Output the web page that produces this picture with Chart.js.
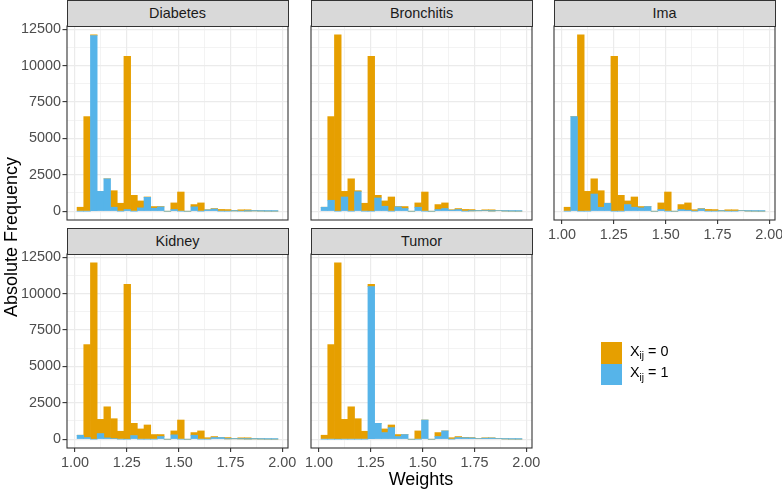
<!DOCTYPE html>
<html><head><meta charset="utf-8">
<script src="https://cdn.jsdelivr.net/npm/chart.js@4.4.0/dist/chart.umd.min.js"></script>
<style>
html,body{margin:0;padding:0;width:782px;height:490px;overflow:hidden;background:#fff;font-family:"Liberation Sans",Arial,Helvetica,sans-serif;}
canvas{position:absolute;left:0;top:0;}
.strip{position:absolute;box-sizing:border-box;background:#D9D9D9;border:1px solid #333333;color:#1A1A1A;font-size:14.4px;display:flex;align-items:center;justify-content:center;}
.ttl{position:absolute;color:#000;font-size:18px;line-height:18px;white-space:nowrap;text-align:center;}
.key{position:absolute;width:21px;height:21.5px;}
.lt{position:absolute;font-size:14.4px;line-height:14.4px;color:#000;white-space:nowrap;}
.lt sub{font-size:10px;vertical-align:baseline;position:relative;top:3.5px;}
</style>
</head><body>
<script>
// ---- data ----
const weightBins = [1.0261, 1.0584, 1.0907, 1.1230, 1.1553, 1.1876, 1.2199, 1.2522, 1.2845, 1.3168,
                    1.3491, 1.3814, 1.4137, 1.4460, 1.4783, 1.5106, 1.5429, 1.5752, 1.6075, 1.6398,
                    1.6721, 1.7044, 1.7367, 1.7690, 1.8013, 1.8336, 1.8659, 1.8982, 1.9305, 1.9628];
const xTickValues = [1.00, 1.125, 1.25, 1.375, 1.50, 1.625, 1.75, 1.875, 2.00];
const yTickValues = [0, 1250, 2500, 3750, 5000, 6250, 7500, 8750, 10000, 11250, 12500];
const facetNames = ["Diabetes", "Bronchitis", "Ima", "Kidney", "Tumor"];
const seriesLabels = ["X_ij = 0", "X_ij = 1"];

const diabetesX0   = [272, 6500, 45, 0, 0, 1135, 545, 10527, 1090, 477, 23, 114, 23, 0, 455, 1317, 0, 159, 568, 10, 30, 120, 110, 25, 95, 85, 20, 15, 5, 2];
const diabetesX1   = [0, 0, 12075, 1362, 2225, 272, 0, 113, 0, 227, 953, 204, 295, 0, 113, 0, 0, 295, 0, 90, 150, 0, 0, 20, 0, 10, 20, 10, 5, 3];
const bronchitisX0 = [0, 5750, 12120, 386, 2225, 67, 545, 10640, 182, 364, 976, 23, 136, 0, 296, 1317, 0, 341, 386, 30, 67, 120, 90, 15, 50, 85, 0, 15, 5, 2];
const bronchitisX1 = [272, 750, 0, 976, 0, 1340, 0, 0, 908, 340, 0, 295, 182, 0, 272, 0, 0, 113, 182, 70, 113, 0, 20, 30, 45, 10, 40, 10, 5, 3];
const imaX0        = [272, 0, 12120, 1362, 1045, 1135, 0, 10640, 1090, 250, 704, 91, 0, 0, 455, 1317, 0, 341, 500, 100, 20, 120, 110, 25, 95, 95, 0, 15, 5, 2];
const imaX1        = [0, 6500, 0, 0, 1180, 272, 545, 0, 0, 454, 272, 227, 318, 0, 113, 0, 0, 113, 68, 0, 160, 0, 0, 20, 0, 0, 40, 10, 5, 3];
const kidneyX0     = [0, 6387, 12120, 976, 2135, 1362, 545, 10640, 840, 704, 976, 318, 136, 0, 273, 1317, 0, 182, 568, 100, 67, 7, 90, 15, 75, 85, 20, 15, 5, 2];
const kidneyX1     = [272, 113, 0, 386, 90, 45, 0, 0, 250, 0, 0, 0, 182, 0, 295, 0, 0, 272, 0, 0, 113, 113, 20, 30, 20, 10, 20, 10, 5, 3];
const tumorX0      = [272, 6500, 12120, 1362, 2225, 1407, 545, 150, 0, 250, 181, 136, 0, 0, 568, 0, 0, 272, 0, 100, 67, 20, 20, 5, 25, 15, 5, 10, 2, 3];
const tumorX1      = [0, 0, 0, 0, 0, 0, 0, 10490, 1090, 454, 795, 182, 318, 0, 0, 1317, 0, 182, 568, 0, 113, 100, 90, 40, 70, 80, 35, 15, 8, 5];

// ---- style / layout ----
const ORANGE = '#E69F00', BLUE = '#56B4E9';
const GRID = '#EBEBEB', FRAME = '#333333', TICKTXT = '#4D4D4D';
const FONT = '"Liberation Sans", Arial, Helvetica, sans-serif';
const X_MIN = 0.9614, X_MAX = 2.0275, Y_MIN = -606, Y_MAX = 12726;
const PW = 221, PH = 194, W = 782, H = 490;

const panels = [
  {name: facetNames[0], x0: diabetesX0,   x1: diabetesX1,   left: 67,  top: 26,  showY: true,  showX: false},
  {name: facetNames[1], x0: bronchitisX0, x1: bronchitisX1, left: 311, top: 26,  showY: false, showX: false},
  {name: facetNames[2], x0: imaX0,        x1: imaX1,        left: 554, top: 26,  showY: false, showX: true},
  {name: facetNames[3], x0: kidneyX0,     x1: kidneyX1,     left: 67,  top: 254, showY: true,  showX: true},
  {name: facetNames[4], x0: tumorX0,      x1: tumorX1,      left: 311, top: 254, showY: false, showX: true}
];

const isMajorX = v => Math.abs(v * 4 - Math.round(v * 4)) < 1e-6;
const isMajorY = v => Math.abs(v % 2500) < 1e-6;

const framePlugin = {
  id: 'frame',
  afterDraw(chart) {
    const a = chart.chartArea, ctx = chart.ctx;
    ctx.save();
    ctx.strokeStyle = FRAME;
    ctx.lineWidth = 1.1;
    ctx.strokeRect(a.left, a.top, a.right - a.left, a.bottom - a.top);
    ctx.restore();
  }
};

panels.forEach(p => {
  const cv = document.createElement('canvas');
  cv.width = W; cv.height = H;
  document.body.appendChild(cv);
  const yW = p.showY ? p.left : 0;
  const xH = p.showX ? 30 : 0;
  new Chart(cv, {
    type: 'bar',
    data: {
      datasets: [
        {label: seriesLabels[1], data: weightBins.map((x, i) => ({x: x, y: p.x1[i]})), backgroundColor: BLUE, borderWidth: 0},
        {label: seriesLabels[0], data: weightBins.map((x, i) => ({x: x, y: p.x0[i]})), backgroundColor: ORANGE, borderWidth: 0}
      ]
    },
    options: {
      responsive: false, animation: false, devicePixelRatio: 1,
      layout: {padding: {left: p.left - yW, top: p.top, right: W - (p.left + PW), bottom: H - (p.top + PH) - xH}},
      datasets: {bar: {barPercentage: 1, categoryPercentage: 1}},
      plugins: {legend: {display: false}, tooltip: {enabled: false}, title: {display: false}},
      scales: {
        x: {
          type: 'linear', min: X_MIN, max: X_MAX, stacked: true, offset: false,
          afterBuildTicks: ax => { ax.ticks = xTickValues.map(v => ({value: v})); },
          afterFit: ax => { ax.height = xH; ax.paddingLeft = 0; ax.paddingRight = 0; },
          border: {display: false},
          grid: {
            offset: false,
            color: GRID,
            lineWidth: c => (c.tick && isMajorX(c.tick.value)) ? 1.2 : 0.6,
            drawTicks: p.showX, tickLength: 4,
            tickColor: c => (c.tick && isMajorX(c.tick.value)) ? FRAME : 'rgba(0,0,0,0)',
            tickWidth: 1.1
          },
          ticks: {
            display: p.showX, autoSkip: false, maxRotation: 0, minRotation: 0, padding: 2.5,
            color: TICKTXT, font: {family: FONT, size: 14.4},
            callback: v => isMajorX(v) ? Number(v).toFixed(2) : ''
          }
        },
        y: {
          type: 'linear', min: Y_MIN, max: Y_MAX, stacked: true,
          afterBuildTicks: ax => { ax.ticks = yTickValues.map(v => ({value: v})); },
          afterFit: ax => { ax.width = yW; ax.paddingTop = 0; ax.paddingBottom = 0; },
          border: {display: false},
          grid: {
            color: GRID,
            lineWidth: c => (c.tick && isMajorY(c.tick.value)) ? 1.2 : 0.6,
            drawTicks: p.showY, tickLength: 4.5,
            tickColor: c => (c.tick && isMajorY(c.tick.value)) ? FRAME : 'rgba(0,0,0,0)',
            tickWidth: 1.1
          },
          ticks: {
            display: p.showY, autoSkip: false, padding: 1.5,
            color: TICKTXT, font: {family: FONT, size: 14.4},
            callback: v => isMajorY(v) ? String(v) : ''
          }
        }
      }
    },
    plugins: [framePlugin]
  });
  const s = document.createElement('div');
  s.className = 'strip';
  s.style.left = (p.left - 0.5) + 'px';
  s.style.top = (p.top - 26.5) + 'px';
  s.style.width = (PW + 1) + 'px';
  s.style.height = '27px';
  s.textContent = p.name;
  document.body.appendChild(s);
});

// axis titles
const yt = document.createElement('div');
yt.className = 'ttl';
yt.style.width = '300px'; yt.style.left = (10.5 - 150) + 'px'; yt.style.top = (237 - 9) + 'px';
yt.style.transform = 'rotate(-90deg)';
yt.textContent = 'Absolute Frequency';
document.body.appendChild(yt);
const xt = document.createElement('div');
xt.className = 'ttl';
xt.style.width = '200px'; xt.style.left = (421 - 100) + 'px'; xt.style.top = '470px';
xt.textContent = 'Weights';
document.body.appendChild(xt);

// legend
[[ORANGE, '0', 342], [BLUE, '1', 363.5]].forEach(([col, lv, y]) => {
  const k = document.createElement('div');
  k.className = 'key'; k.style.background = col; k.style.left = '601px'; k.style.top = y + 'px';
  document.body.appendChild(k);
  const t = document.createElement('div');
  t.className = 'lt'; t.style.left = '630px'; t.style.top = (y + 1.8) + 'px';
  t.innerHTML = 'X<sub>ij</sub> = ' + lv;
  document.body.appendChild(t);
});
</script>
</body></html>
